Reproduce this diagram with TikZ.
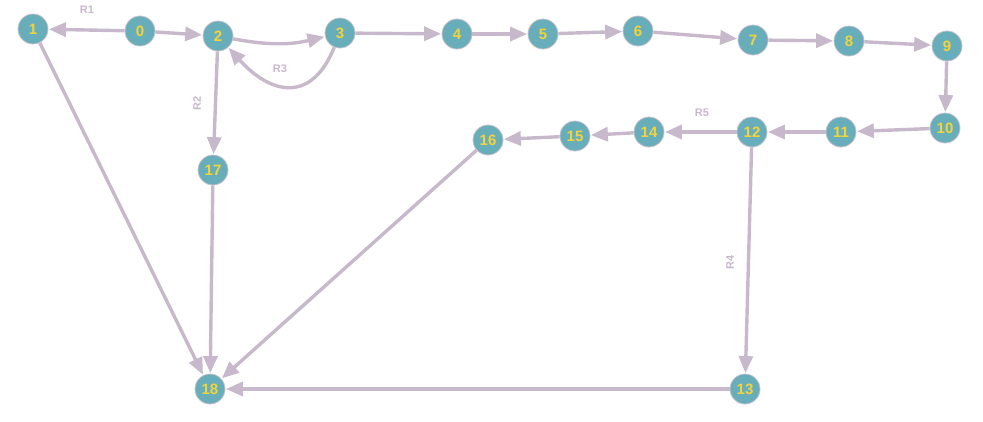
\documentclass[tikz,border=0pt]{standalone}
\usepackage{fontspec}
\setmainfont{Liberation Sans}
\usetikzlibrary{arrows.meta,backgrounds}
\definecolor{nodefill}{HTML}{68AEBA}
\definecolor{nodetext}{HTML}{F2D43A}
\definecolor{edgecol}{HTML}{C8B8CB}
\definecolor{rimcol}{HTML}{C9C2CC}
\tikzset{
  vert/.style={circle, fill=nodefill, draw=rimcol, line width=0.8pt, minimum size=30pt, inner sep=0pt,
    text=nodetext, font=\fontsize{15}{15}\selectfont\bfseries},
  edge/.style={draw=edgecol, line width=3.4pt, -{Triangle[length=17pt,width=14pt]}, shorten >=0.5pt},
  elabel/.style={text=edgecol, font=\fontsize{11}{11}\selectfont\bfseries, inner sep=0pt}
}
\begin{document}
\begin{tikzpicture}[x=1pt,y=-1pt]
\useasboundingbox (0,0) rectangle (983,421);
\node[vert] (n0) at (140,31) {0};
\node[vert] (n1) at (33,29) {1};
\node[vert] (n2) at (218,36) {2};
\node[vert] (n3) at (340,33) {3};
\node[vert] (n4) at (457,34) {4};
\node[vert] (n5) at (543,34) {5};
\node[vert] (n6) at (638,31) {6};
\node[vert] (n7) at (753,40) {7};
\node[vert] (n8) at (849,41) {8};
\node[vert] (n9) at (947,46) {9};
\node[vert] (n10) at (945,128) {10};
\node[vert] (n11) at (841,132) {11};
\node[vert] (n12) at (752,132) {12};
\node[vert] (n13) at (745,389) {13};
\node[vert] (n14) at (649,132) {14};
\node[vert] (n15) at (575,136) {15};
\node[vert] (n16) at (488,140) {16};
\node[vert] (n17) at (213,170) {17};
\node[vert] (n18) at (210,389) {18};

\begin{pgfonlayer}{background}
\draw[edge] (n0) -- (n1);
\draw[edge] (n0) -- (n2);
\draw[edge] (n2) to[bend right=12] (n3);
\draw[edge] (n3) to[out=-112,in=-48,looseness=1.5] (n2);
\draw[edge] (n2) -- (n17);
\draw[edge] (n3) -- (n4);
\draw[edge] (n4) -- (n5);
\draw[edge] (n5) -- (n6);
\draw[edge] (n6) -- (n7);
\draw[edge] (n7) -- (n8);
\draw[edge] (n8) -- (n9);
\draw[edge] (n9) -- (n10);
\draw[edge] (n10) -- (n11);
\draw[edge] (n11) -- (n12);
\draw[edge] (n12) -- (n14);
\draw[edge] (n14) -- (n15);
\draw[edge] (n15) -- (n16);
\draw[edge] (n16) -- (n18);
\draw[edge] (n17) -- (n18);
\draw[edge] (n1) -- (n18);
\draw[edge] (n12) -- (n13);
\draw[edge] (n13) -- (n18);
\end{pgfonlayer}

\node[elabel] (l1) at (87,10) {R1};
\node[elabel, rotate=90] (l2) at (197,103) {R2};
\node[elabel] (l3) at (280,69) {R3};
\node[elabel, rotate=90] (l4) at (730,262) {R4};
\node[elabel] (l5) at (702,113) {R5};
\end{tikzpicture}
\end{document}
